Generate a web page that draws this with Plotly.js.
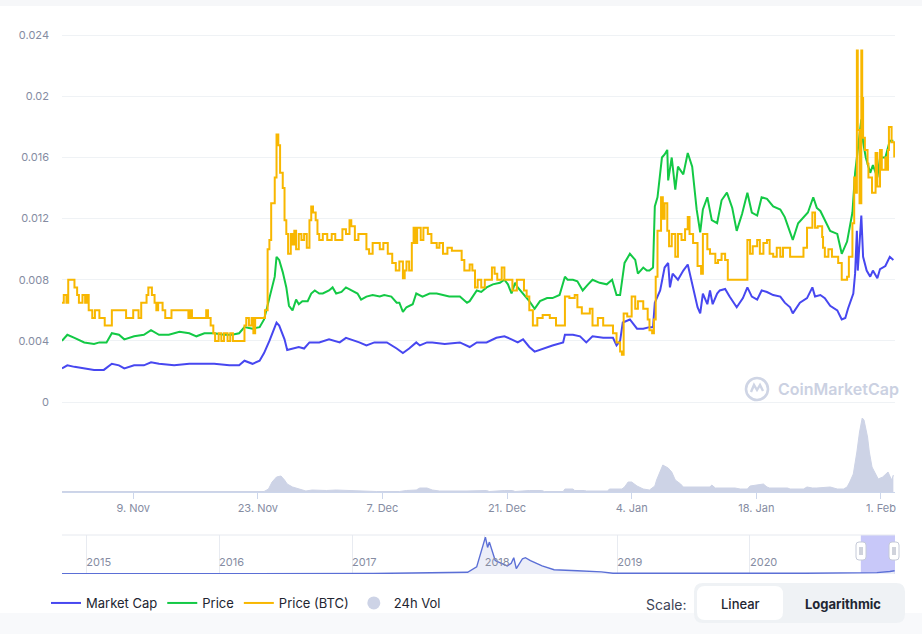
<!DOCTYPE html>
<html>
<head>
<meta charset="utf-8">
<script src="https://cdn.plot.ly/plotly-3.0.1.min.js"></script>
<style>html,body{margin:0;padding:0;background:#fff;}#chart{width:922px;height:634px;}</style>
</head>
<body>
<div id="chart"></div>
<script>
// ---- data (x = days after 1 Nov 2020, value on the visible axis scale) ----
const marketCap = [[0,0.0022],[0.6,0.0024],[1.4,0.0023],[2.5,0.0022],[3.6,0.0021],[4.7,0.0021],[5.6,0.0025],[6.4,0.0024],[7.0,0.0022],[8.1,0.0024],[9.2,0.0024],[10.0,0.0026],[10.9,0.0025],[12.6,0.0024],[14.3,0.0025],[15.4,0.0025],[17.1,0.0025],[18.8,0.0024],[19.9,0.0024],[20.5,0.0027],[21.0,0.0026],[21.4,0.0025],[22.2,0.0027],[22.7,0.0032],[23.3,0.0040],[23.6,0.0045],[24.1,0.0052],[24.4,0.0050],[24.6,0.0047],[25.0,0.0041],[25.3,0.0034],[25.9,0.0035],[26.6,0.0036],[27.2,0.0035],[27.8,0.0039],[28.9,0.0039],[30.0,0.0041],[31.2,0.0039],[31.9,0.0042],[33.4,0.0039],[34.2,0.0037],[35.1,0.0039],[36.5,0.0039],[37.6,0.0035],[38.3,0.0032],[39.0,0.0035],[39.8,0.0039],[40.2,0.0037],[41.0,0.0039],[41.6,0.0039],[43.0,0.0038],[44.7,0.0039],[45.8,0.0036],[46.6,0.0039],[47.7,0.0039],[48.8,0.0042],[49.7,0.0043],[50.5,0.0041],[51.2,0.0039],[51.8,0.0041],[52.5,0.0036],[53.1,0.0033],[54.0,0.0035],[55.1,0.0037],[56.3,0.0039],[56.5,0.0044],[57.4,0.0044],[58.2,0.0043],[58.9,0.0039],[59.6,0.0043],[60.8,0.0042],[61.9,0.0042],[62.3,0.0037],[62.7,0.0040],[63.0,0.0052],[63.8,0.0054],[64.6,0.0048],[65.3,0.0048],[66.0,0.0049],[66.4,0.0049],[66.6,0.0065],[67.2,0.0073],[67.7,0.0088],[68.1,0.0091],[68.3,0.0075],[68.6,0.0084],[69.2,0.0080],[69.8,0.0086],[70.3,0.0090],[70.8,0.0078],[71.1,0.0071],[71.4,0.0062],[71.7,0.0058],[72.0,0.0071],[72.5,0.0064],[72.8,0.0073],[73.1,0.0064],[73.6,0.0071],[73.9,0.0073],[74.5,0.0074],[75.0,0.0069],[75.8,0.0062],[76.5,0.0068],[77.0,0.0075],[77.5,0.0069],[78.1,0.0067],[78.6,0.0073],[79.2,0.0072],[79.9,0.0070],[80.7,0.0069],[81.2,0.0065],[81.8,0.0062],[82.1,0.0058],[82.6,0.0062],[82.9,0.0065],[83.7,0.0068],[84.3,0.0075],[84.6,0.0069],[85.2,0.0070],[85.7,0.0068],[86.3,0.0063],[87.1,0.0060],[87.6,0.0054],[88.0,0.0055],[88.3,0.0061],[88.9,0.0071],[89.1,0.0084],[89.3,0.0112],[89.4,0.0086],[89.8,0.0122],[90.0,0.0095],[90.4,0.0086],[90.8,0.0082],[91.1,0.0086],[91.6,0.0081],[91.9,0.0087],[92.5,0.0089],[93.0,0.0095],[93.4,0.0093]];

const priceUsd = [[0,0.0040],[0.6,0.0044],[1.4,0.0042],[2.5,0.0039],[3.6,0.0038],[4.2,0.0039],[5.0,0.0039],[5.6,0.0045],[6.4,0.0044],[7.0,0.0041],[8.1,0.0043],[9.2,0.0044],[10.0,0.0047],[10.9,0.0044],[12.0,0.0044],[13.2,0.0046],[14.3,0.0045],[15.1,0.0043],[16.0,0.0045],[17.1,0.0045],[18.2,0.0044],[19.1,0.0044],[19.9,0.0045],[20.5,0.0049],[21.4,0.0048],[22.2,0.0049],[22.7,0.0054],[23.3,0.0069],[23.9,0.0082],[24.1,0.0095],[24.4,0.0093],[24.8,0.0085],[25.2,0.0075],[25.5,0.0063],[25.9,0.0060],[26.3,0.0067],[26.6,0.0064],[27.0,0.0066],[27.6,0.0066],[28.0,0.0071],[28.4,0.0073],[28.9,0.0071],[29.3,0.0071],[30.0,0.0073],[30.4,0.0075],[30.8,0.0071],[31.4,0.0072],[31.9,0.0075],[32.6,0.0073],[33.2,0.0071],[33.6,0.0067],[34.2,0.0069],[34.9,0.0070],[35.7,0.0069],[36.2,0.0070],[37.0,0.0069],[37.6,0.0065],[37.9,0.0065],[38.3,0.0059],[38.7,0.0062],[39.4,0.0064],[39.8,0.0071],[40.5,0.0069],[41.3,0.0071],[42.1,0.0071],[42.8,0.0070],[43.5,0.0069],[44.7,0.0069],[45.5,0.0065],[45.8,0.0066],[46.6,0.0073],[47.1,0.0072],[47.7,0.0075],[48.4,0.0077],[49.2,0.0078],[49.7,0.0080],[50.1,0.0077],[50.5,0.0071],[50.9,0.0078],[51.2,0.0075],[51.8,0.0071],[52.5,0.0066],[53.1,0.0061],[53.7,0.0066],[54.5,0.0068],[55.1,0.0068],[55.9,0.0070],[56.5,0.0082],[56.8,0.0080],[57.4,0.0080],[57.9,0.0079],[58.5,0.0073],[59.1,0.0077],[59.6,0.0080],[60.4,0.0078],[61.2,0.0077],[61.8,0.0080],[62.3,0.0070],[62.7,0.0070],[63.2,0.0091],[63.8,0.0097],[64.4,0.0093],[64.7,0.0084],[65.3,0.0088],[65.7,0.0086],[66.0,0.0086],[66.4,0.0088],[66.6,0.0128],[66.9,0.0134],[67.4,0.0160],[67.7,0.0162],[68.0,0.0165],[68.1,0.0145],[68.5,0.0160],[68.9,0.0139],[69.2,0.0154],[69.8,0.0149],[70.3,0.0163],[70.8,0.0154],[71.1,0.0134],[71.3,0.0126],[71.7,0.0111],[72.0,0.0126],[72.5,0.0134],[73.0,0.0119],[73.6,0.0117],[74.1,0.0132],[74.7,0.0137],[75.3,0.0127],[75.8,0.0112],[76.4,0.0123],[77.0,0.0137],[77.5,0.0124],[78.1,0.0122],[78.6,0.0134],[79.2,0.0133],[79.9,0.0128],[80.7,0.0126],[81.2,0.0121],[81.8,0.0111],[82.1,0.0106],[82.7,0.0117],[83.3,0.0121],[83.8,0.0124],[84.4,0.0134],[84.8,0.0127],[85.2,0.0125],[85.7,0.0119],[86.3,0.0112],[87.1,0.0110],[87.6,0.0097],[88.2,0.0105],[88.8,0.0124],[89.1,0.0150],[89.4,0.0165],[89.8,0.0185],[90.0,0.0170],[90.3,0.0160],[90.8,0.0150],[91.1,0.0155],[91.6,0.0147],[91.9,0.0160],[92.5,0.0160],[93.0,0.0171],[93.4,0.0171]];

const priceBtc = [[0,0.0065],[0.2,0.0070],[0.5,0.0065],[0.7,0.0080],[1.1,0.0080],[1.4,0.0075],[1.7,0.0070],[1.9,0.0065],[2.3,0.0070],[2.6,0.0065],[2.8,0.0070],[3.0,0.0060],[3.4,0.0055],[3.7,0.0060],[4.2,0.0055],[4.6,0.0055],[4.8,0.0050],[5.4,0.0050],[5.6,0.0060],[7.0,0.0060],[7.2,0.0055],[7.8,0.0055],[8.0,0.0060],[8.6,0.0055],[8.9,0.0065],[9.2,0.0065],[9.5,0.0070],[9.7,0.0075],[9.9,0.0075],[10.1,0.0070],[10.4,0.0065],[10.6,0.0060],[10.8,0.0065],[11.0,0.0065],[11.3,0.0060],[11.6,0.0055],[12.0,0.0055],[12.3,0.0060],[14.1,0.0060],[14.2,0.0055],[14.4,0.0060],[14.6,0.0055],[16.0,0.0055],[16.2,0.0060],[16.4,0.0055],[16.7,0.0050],[17.0,0.0045],[17.2,0.0040],[17.6,0.0045],[17.9,0.0040],[18.2,0.0045],[18.6,0.0040],[18.9,0.0045],[19.2,0.0040],[20.1,0.0040],[20.5,0.0050],[20.7,0.0055],[21.0,0.0050],[21.3,0.0055],[21.5,0.0045],[21.7,0.0055],[22.6,0.0055],[22.8,0.0060],[23.1,0.0100],[23.3,0.0106],[23.5,0.0130],[23.9,0.0147],[24.1,0.0175],[24.3,0.0168],[24.5,0.0150],[24.8,0.0140],[25.0,0.0119],[25.2,0.0110],[25.4,0.0097],[25.7,0.0110],[25.9,0.0103],[26.1,0.0112],[26.3,0.0100],[26.6,0.0110],[26.9,0.0106],[27.2,0.0110],[27.5,0.0101],[27.8,0.0119],[28.0,0.0128],[28.2,0.0124],[28.5,0.0119],[28.7,0.0110],[28.9,0.0106],[29.3,0.0110],[29.8,0.0106],[30.3,0.0110],[30.7,0.0106],[31.2,0.0106],[31.5,0.0113],[31.9,0.0110],[32.3,0.0119],[32.5,0.0115],[32.9,0.0106],[33.3,0.0110],[33.9,0.0110],[34.2,0.0100],[34.5,0.0097],[34.9,0.0104],[35.3,0.0104],[35.7,0.0100],[36.1,0.0104],[36.6,0.0097],[37.1,0.0091],[37.5,0.0086],[37.9,0.0092],[38.3,0.0081],[38.5,0.0086],[38.7,0.0092],[39.0,0.0086],[39.3,0.0104],[39.5,0.0114],[39.7,0.0104],[39.9,0.0114],[40.3,0.0106],[40.6,0.0114],[41.1,0.0110],[41.5,0.0104],[42.1,0.0101],[42.4,0.0104],[42.8,0.0097],[43.3,0.0101],[43.8,0.0099],[44.7,0.0099],[44.9,0.0093],[45.2,0.0086],[45.8,0.0090],[46.1,0.0086],[46.4,0.0075],[46.7,0.0080],[47.1,0.0075],[47.5,0.0080],[48.0,0.0080],[48.3,0.0088],[48.6,0.0084],[48.9,0.0080],[49.4,0.0088],[49.7,0.0080],[50.3,0.0080],[50.6,0.0073],[51.1,0.0080],[51.6,0.0080],[51.9,0.0073],[52.2,0.0069],[52.5,0.0060],[52.9,0.0050],[53.4,0.0055],[54.0,0.0057],[54.8,0.0055],[55.5,0.0050],[56.1,0.0050],[56.5,0.0069],[57.0,0.0068],[57.6,0.0070],[57.9,0.0062],[58.4,0.0058],[58.7,0.0058],[59.3,0.0061],[59.6,0.0050],[60.2,0.0055],[60.8,0.0050],[61.5,0.0050],[61.9,0.0045],[62.3,0.0039],[62.7,0.0033],[62.9,0.0031],[63.1,0.0058],[63.5,0.0056],[64.0,0.0069],[64.4,0.0061],[64.7,0.0066],[65.3,0.0061],[65.8,0.0054],[66.0,0.0047],[66.3,0.0045],[66.5,0.0054],[66.7,0.0082],[66.9,0.0112],[67.3,0.0134],[67.5,0.0120],[67.7,0.0130],[68.0,0.0112],[68.2,0.0102],[68.5,0.0110],[68.9,0.0095],[69.2,0.0110],[69.6,0.0106],[70.0,0.0113],[70.3,0.0121],[70.5,0.0110],[70.9,0.0104],[71.4,0.0089],[71.8,0.0084],[72.0,0.0110],[72.5,0.0100],[72.8,0.0097],[73.4,0.0091],[73.7,0.0093],[74.1,0.0097],[74.5,0.0093],[74.8,0.0080],[75.6,0.0080],[76.5,0.0080],[77.0,0.0106],[77.3,0.0097],[77.6,0.0102],[78.1,0.0106],[78.4,0.0097],[78.8,0.0104],[79.2,0.0106],[79.5,0.0097],[79.9,0.0095],[80.3,0.0101],[80.7,0.0095],[81.0,0.0101],[81.6,0.0101],[81.8,0.0095],[82.9,0.0095],[83.3,0.0101],[83.7,0.0114],[84.3,0.0124],[84.6,0.0114],[84.9,0.0115],[85.4,0.0108],[85.5,0.0101],[85.7,0.0095],[86.1,0.0100],[86.5,0.0095],[87.1,0.0095],[87.2,0.0091],[87.6,0.0080],[88.2,0.0082],[88.4,0.0095],[88.8,0.0117],[89.0,0.0147],[89.1,0.0137],[89.3,0.0230],[89.4,0.0178],[89.6,0.0130],[89.8,0.0230],[89.9,0.0199],[90.0,0.0173],[90.2,0.0165],[90.5,0.0156],[90.6,0.0147],[91.0,0.0137],[91.4,0.0163],[91.6,0.0141],[91.9,0.0165],[92.1,0.0152],[92.5,0.0160],[92.6,0.0152],[92.8,0.0165],[92.9,0.0180],[93.2,0.0170],[93.3,0.0170],[93.5,0.0160]];

// 24h volume (relative units)
const volume24h = [[0,0.5],[22.7,0.5],[23.2,3],[23.6,10],[24.1,15],[24.6,16],[25.0,12],[25.3,8],[25.9,5],[26.7,3],[27.4,1],[28.1,2],[29.7,1.5],[30.8,2],[32.0,1.5],[33.4,1],[35.3,0.5],[37.9,0.5],[38.7,1.5],[39.8,2],[40.2,4],[41.0,4],[41.6,2],[42.4,1],[44.7,0.5],[45.5,1],[47.7,1.5],[48.0,0.5],[49.7,1.5],[50.6,1.5],[50.9,0.5],[52.5,1.5],[53.9,1.5],[54.2,0.5],[56.3,0.5],[56.5,3],[57.4,3],[57.6,1.5],[58.7,1.5],[58.9,1],[61.3,1],[61.5,3],[62.9,3],[63.2,5],[63.6,10],[64.0,10],[64.6,6],[65.3,3],[66.0,2],[66.6,6],[66.8,12],[67.2,20],[67.5,27],[67.7,26],[68.1,24],[68.5,20],[68.9,12],[69.5,8],[69.8,5],[72.8,5],[73.0,7],[73.4,4],[75.6,4],[76.2,3],[77.0,3],[77.3,6],[78.4,7],[78.8,8],[79.2,5],[79.5,4],[81.5,4],[81.8,3],[83.3,3],[83.7,5],[84.3,4],[84.8,4],[86.3,5],[87.1,3],[87.8,3],[88.2,5],[88.5,10],[88.9,18],[89.3,40],[89.6,60],[89.9,74],[90.1,72],[90.5,55],[90.7,40],[91.0,25],[91.4,18],[91.7,13],[92.2,15],[92.8,20],[93.2,12],[93.4,17]];

// full-history market cap for the navigator
const navDates = ['2014-10-26','2015-06-01','2016-01-01','2016-08-01','2017-03-01','2017-06-15','2017-09-15','2017-11-15','2017-12-10','2017-12-22','2018-01-03','2018-01-09','2018-01-14','2018-01-30','2018-03-04','2018-03-15','2018-03-22','2018-03-29','2018-04-15','2018-04-23','2018-05-07','2018-06-08','2018-07-11','2018-09-13','2018-11-18','2018-12-20','2019-06-01','2019-12-01','2020-06-01','2020-11-01','2020-12-15','2021-01-20','2021-02-02'];
const navMarketCap = [0.0008,0.0008,0.0008,0.0008,0.0012,0.003,0.004,0.005,0.02,0.06,0.104,0.075,0.09,0.038,0.023,0.03,0.046,0.015,0.043,0.046,0.038,0.023,0.012,0.009,0.006,0.002,0.003,0.002,0.002,0.0022,0.004,0.007,0.0093];

const xTickVals = ['2020-11-09','2020-11-23','2020-12-07','2020-12-21','2021-01-04','2021-01-18','2021-02-01'];
const xTickText = ['9. Nov','23. Nov','7. Dec','21. Dec','4. Jan','18. Jan','1. Feb'];
const yTickVals = [0,0.004,0.008,0.012,0.016,0.02,0.024];
const yTickText = ['0','0.004','0.008','0.012','0.016','0.02','0.024'];
const navTickVals = ['2015-01-01','2016-01-01','2017-01-01','2018-01-01','2019-01-01','2020-01-01'];
const navTickText = ['2015','2016','2017','2018','2019','2020'];
const seriesNames = ['Market Cap','Price','Price (BTC)','24h Vol'];

// ---- helpers ----
const START = Date.UTC(2020,10,1);
function dayToDate(d){ return new Date(START + d*864e5).toISOString().slice(0,19).replace('T',' '); }
const W = 922, H = 634, ML = 62, MR = 27, PW = W-ML-MR;
const px = x => (x-ML)/PW;           // pixel -> paper x
const py = y => 1 - y/H;             // pixel -> paper y
function rrect(x0,y0,x1,y1,r,fill,line,lw){
  const w=x1-x0,h=y1-y0;
  const p=`M${r},0 H${w-r} Q${w},0 ${w},${-r} V${-h+r} Q${w},${-h} ${w-r},${-h} H${r} Q0,${-h} 0,${-h+r} V${-r} Q0,0 ${r},0 Z`;
  return {type:'path',xref:'paper',yref:'paper',xsizemode:'pixel',ysizemode:'pixel',xanchor:px(x0),yanchor:py(y0),path:p,fillcolor:fill,line:{color:line||fill,width:lw||0},layer:'above'};
}

const C_BLUE='#4747f0', C_GREEN='#13c945', C_ORANGE='#f8b700', C_VOL='#cdd3e6', C_TXT='#858ca2';

const traces = [
  {x:marketCap.map(p=>dayToDate(p[0])), y:marketCap.map(p=>p[1]), name:seriesNames[0], type:'scatter', mode:'lines', line:{color:C_BLUE,width:2}, xaxis:'x', yaxis:'y'},
  {x:priceUsd.map(p=>dayToDate(p[0])), y:priceUsd.map(p=>p[1]), name:seriesNames[1], type:'scatter', mode:'lines', line:{color:C_GREEN,width:2}, xaxis:'x', yaxis:'y'},
  {x:priceBtc.map(p=>dayToDate(p[0])), y:priceBtc.map(p=>p[1]), name:seriesNames[2], type:'scatter', mode:'lines', line:{color:C_ORANGE,width:2,shape:'hv'}, xaxis:'x', yaxis:'y'},
  {x:volume24h.map(p=>dayToDate(p[0])), y:volume24h.map(p=>p[1]), name:seriesNames[3], type:'scatter', mode:'lines', fill:'tozeroy', fillcolor:C_VOL, line:{color:C_VOL,width:1}, xaxis:'x', yaxis:'y2', showlegend:false},
  {x:[null], y:[null], name:seriesNames[3], type:'scatter', mode:'markers', marker:{color:C_VOL,size:13,symbol:'circle'}, xaxis:'x', yaxis:'y2'},
  {x:navDates, y:navMarketCap, name:'nav', type:'scatter', mode:'lines', fill:'tozeroy', fillcolor:'#eceef8', line:{color:'#5b6fd6',width:1.4}, xaxis:'x3', yaxis:'y3', showlegend:false, hoverinfo:'skip'}
];

const tickFont = {family:'Inter, Roboto, sans-serif', size:11, color:C_TXT};

const layout = {
  width:W, height:H,
  margin:{l:ML, r:MR, t:0, b:0, autoexpand:false},
  paper_bgcolor:'#ffffff', plot_bgcolor:'rgba(0,0,0,0)',
  font:{family:'Inter, Roboto, sans-serif', color:'#222531'},
  showlegend:true,
  legend:{orientation:'h', x:px(46), xanchor:'left', y:py(603), yanchor:'middle', font:{size:13,color:'#222531'}, bgcolor:'rgba(0,0,0,0)', itemwidth:30, traceorder:'normal'},
  xaxis:{type:'date', range:['2020-11-01','2021-02-02 14:00'], anchor:'y2', domain:[0,1],
    tickmode:'array', tickvals:xTickVals, ticktext:xTickText, ticks:'outside', ticklen:6, tickcolor:'#ccd6eb',
    showline:true, linecolor:'#ccd6eb', showgrid:false, zeroline:false, tickfont:tickFont, fixedrange:true},
  yaxis:{domain:[py(402), py(20)], range:[0,0.025], anchor:'x', tickmode:'array', tickvals:yTickVals, ticktext:yTickText,
    showgrid:true, gridcolor:'#eff2f5', zeroline:true, zerolinecolor:'#eff2f5', zerolinewidth:1, showline:false, ticks:'', ticklabelstandoff:12, tickfont:tickFont, fixedrange:true},
  yaxis2:{domain:[py(492), py(412)], range:[0,80], anchor:'x', showgrid:false, zeroline:false, showticklabels:false, ticks:'', fixedrange:true},
  xaxis3:{type:'date', range:['2014-10-26','2021-02-03'], anchor:'y3', domain:[0,1], tickmode:'array', tickvals:navTickVals, ticktext:navTickText,
    ticklabelposition:'inside right', ticks:'', showgrid:true, gridcolor:'#e8ebf1', zeroline:false, showline:false, tickfont:tickFont, fixedrange:true},
  yaxis3:{domain:[py(574), py(535)], range:[0,0.11], anchor:'x3', showgrid:false, zeroline:false, showticklabels:false, ticks:'', fixedrange:true},
  shapes:[
    // soft top / bottom bands
    {type:'rect', xref:'paper', yref:'paper', x0:px(0), x1:px(W), y0:py(6), y1:py(0), fillcolor:'#f6f7f9', line:{width:0}, layer:'below'},
    {type:'rect', xref:'paper', yref:'paper', x0:px(0), x1:px(W), y0:py(H), y1:py(613), fillcolor:'#f8f9fb', line:{width:0}, layer:'below'},
    // navigator top border
    {type:'line', xref:'paper', yref:'paper', x0:0, x1:1, y0:py(535), y1:py(535), line:{color:'#e6e9ef',width:1}},
    // navigator selection
    {type:'rect', xref:'x3', yref:'paper', x0:'2020-11-01', x1:'2021-02-03', y0:py(574), y1:py(535), fillcolor:'rgba(110,110,240,0.38)', line:{width:0}, layer:'below'},
    // navigator handles
    rrect(856,542,866,560,3,'#ffffff','#c5cad8',1),
    rrect(889,542,899,560,3,'#ffffff','#c5cad8',1),
    {type:'line', xref:'paper', yref:'paper', x0:px(860), x1:px(860), y0:py(555), y1:py(547), line:{color:'#a0a6b8',width:1}},
    {type:'line', xref:'paper', yref:'paper', x0:px(862), x1:px(862), y0:py(555), y1:py(547), line:{color:'#a0a6b8',width:1}},
    {type:'line', xref:'paper', yref:'paper', x0:px(893), x1:px(893), y0:py(555), y1:py(547), line:{color:'#a0a6b8',width:1}},
    {type:'line', xref:'paper', yref:'paper', x0:px(895), x1:px(895), y0:py(555), y1:py(547), line:{color:'#a0a6b8',width:1}},
    // scale toggle
    rrect(694,583,905,623,9,'#eff2f5'),
    rrect(697,586,783,620,8,'#ffffff'),
    // watermark logo
    {type:'circle', xref:'paper', yref:'paper', xsizemode:'pixel', ysizemode:'pixel', xanchor:px(757), yanchor:py(389), x0:-11, x1:11, y0:-11, y1:11, line:{color:'#cfd5e5',width:2.6}, fillcolor:'rgba(0,0,0,0)'},
    {type:'path', xref:'paper', yref:'paper', xsizemode:'pixel', ysizemode:'pixel', xanchor:px(757), yanchor:py(389),
      path:'M-6,-3 L-3,4 L0,-1 L3,4 L6,-2', line:{color:'#cfd5e5',width:2.4}}
  ],
  annotations:[
    {xref:'paper', yref:'paper', x:px(776), y:py(389), xanchor:'left', yanchor:'middle', text:'CoinMarketCap', showarrow:false,
      font:{family:'Inter, Roboto, sans-serif', size:16, color:'#cbd1e2', weight:600}},
    {xref:'paper', yref:'paper', x:px(689), y:py(604), xanchor:'right', yanchor:'middle', text:'Scale:', showarrow:false,
      font:{size:14, color:'#3d4456'}},
    {xref:'paper', yref:'paper', x:px(740), y:py(604), xanchor:'center', yanchor:'middle', text:'Linear', showarrow:false,
      font:{size:13, color:'#222531', weight:500}},
    {xref:'paper', yref:'paper', x:px(843), y:py(604), xanchor:'center', yanchor:'middle', text:'<b>Logarithmic</b>', showarrow:false,
      font:{size:13, color:'#222531'}}
  ]
};

Plotly.newPlot('chart', traces, layout, {displayModeBar:false, staticPlot:false, responsive:false});
</script>
</body>
</html>
